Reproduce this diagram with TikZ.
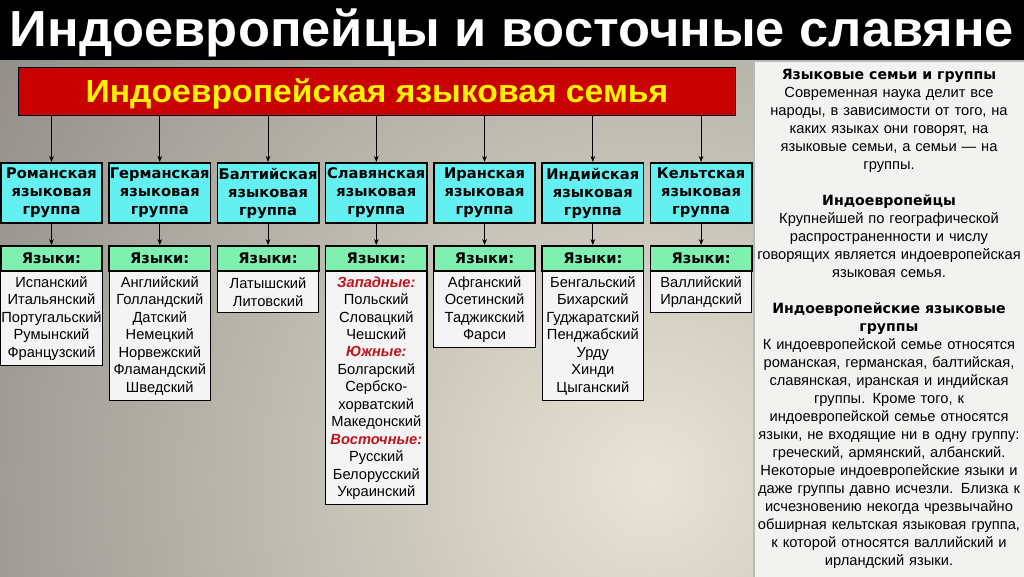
\documentclass[tikz,border=0pt]{standalone}
\usepackage{fontspec}
\usepackage{graphicx}
\setmainfont{Liberation Sans}
\newfontfamily\dejavu{DejaVu Sans}
\usetikzlibrary{positioning,arrows.meta}

\definecolor{famred}{RGB}{200,0,0}
\definecolor{grpcyan}{RGB}{100,240,240}
\definecolor{labgreen}{RGB}{128,240,176}
\definecolor{listwhite}{RGB}{244,244,244}
\definecolor{subred}{RGB}{190,20,30}
\definecolor{bglight}{RGB}{232,228,212}
\definecolor{bgdark}{RGB}{108,108,106}
\definecolor{panelgray}{RGB}{242,242,240}

\newcommand{\subhd}[1]{{\color{subred}\bfseries\itshape #1}}
\newcommand{\panelhd}[1]{{\dejavu\bfseries\fontsize{10.6pt}{13.5pt}\selectfont #1}}

\begin{document}
\begin{tikzpicture}[x=0.75pt, y=-0.75pt, thick,
    family/.style={draw, line width=1.2pt, fill=famred, text=yellow, minimum width=538pt,
                   minimum height=36pt, inner sep=0pt, text height=17pt, text depth=0pt,
                   font=\bfseries\fontsize{24pt}{26pt}\selectfont},
    group/.style={draw, line width=1.2pt, fill=grpcyan, minimum width=76pt, minimum height=45.4pt,
                  align=center, inner sep=0pt, font=\dejavu\bfseries\fontsize{11pt}{13.5pt}\selectfont},
    lab/.style={draw, line width=1.2pt, fill=labgreen, minimum width=76pt, minimum height=19pt,
                inner sep=0pt, font=\dejavu\bfseries\fontsize{11pt}{12pt}\selectfont},
    langs/.style={draw, line width=0.8pt, fill=listwhite, minimum width=76pt,
                  minimum height=#1*13.1pt+5pt, align=center, inner sep=0pt,
                  font=\fontsize{11pt}{13.1pt}\selectfont},
    arr/.style={-{Stealth[length=4.5pt,width=3.5pt]}, line width=0.6pt}]
  \useasboundingbox (0,0) rectangle (1024,576);

  % backdrop
  \begin{scope}
    \clip (0,0) rectangle (1024,576);
    \shade[inner color=bglight, outer color=bgdark] (650,480) circle[radius=1100];
  \end{scope}
  \fill[black] (0,0) rectangle (1024,60);
  \draw[gray!55, line width=1.5pt, fill=panelgray] (754,61) rectangle (1030,580);

  \node[text=white, inner sep=0pt, font=\bfseries\fontsize{38pt}{40pt}\selectfont] (ttl) at (512,33)
    {\resizebox{753pt}{\height}{Индоевропейцы и восточные славяне}};

  \node[family] (fam) at (377,91.5) {\resizebox{437pt}{\height}{Индоевропейская языковая семья}};

  % groups
  \node[group] (rom) at (51.5,193) {Романская\\языковая\\группа};
  \node[group] (ger) [right=4pt of rom] {Германская\\языковая\\группа};
  \node[group] (bal) [right=4pt of ger] {Балтийская\\языковая\\группа};
  \node[group] (sla) [right=4pt of bal] {Славянская\\языковая\\группа};
  \node[group] (ira) [right=4pt of sla] {Иранская\\языковая\\группа};
  \node[group] (ind) [right=4pt of ira] {Индийская\\языковая\\группа};
  \node[group] (kel) [right=4pt of ind] {Кельтская\\языковая\\группа};

  \node[lab] (romlab) [below=15.75pt of rom] {Языки:};
  \node[lab] (gerlab) [below=15.75pt of ger] {Языки:};
  \node[lab] (ballab) [below=15.75pt of bal] {Языки:};
  \node[lab] (slalab) [below=15.75pt of sla] {Языки:};
  \node[lab] (iralab) [below=15.75pt of ira] {Языки:};
  \node[lab] (indlab) [below=15.75pt of ind] {Языки:};
  \node[lab] (kellab) [below=15.75pt of kel] {Языки:};

  \node[langs=5] (romlist) [below=-1pt of romlab]
    {Испанский\\Итальянский\\Португальский\\Румынский\\Французский};
  \node[langs=7] (gerlist) [below=-1pt of gerlab]
    {Английский\\Голландский\\Датский\\Немецкий\\Норвежский\\Фламандский\\Шведский};
  \node[langs=2] (ballist) [below=-1pt of ballab] {Латышский\\Литовский};
  \node[langs=13] (slalist) [below=-1pt of slalab]
    {\subhd{Западные:}\\Польский\\Словацкий\\Чешский\\\subhd{Южные:}\\Болгарский\\Сербско-\\хорватский\\Македонский\\\subhd{Восточные:}\\Русский\\Белорусский\\Украинский};
  \node[langs=4] (iralist) [below=-1pt of iralab] {Афганский\\Осетинский\\Таджикский\\Фарси};
  \node[langs=7] (indlist) [below=-1pt of indlab]
    {Бенгальский\\Бихарский\\Гуджаратский\\Пенджабский\\Урду\\Хинди\\Цыганский};
  \node[langs=2] (kellist) [below=-1pt of kellab] {Валлийский\\Ирландский};

  \path[arr]
    (fam.south -| rom) edge (rom)
    (fam.south -| ger) edge (ger)
    (fam.south -| bal) edge (bal)
    (fam.south -| sla) edge (sla)
    (fam.south -| ira) edge (ira)
    (fam.south -| ind) edge (ind)
    (fam.south -| kel) edge (kel)
    (rom) edge (romlab)
    (ger) edge (gerlab)
    (bal) edge (ballab)
    (sla) edge (slalab)
    (ira) edge (iralab)
    (ind) edge (indlab)
    (kel) edge (kellab);

  % side text
  \node[anchor=north, align=center, text width=202pt, inner sep=0pt,
        font=\fontsize{11pt}{13.5pt}\selectfont] (info) at (889,69)
    {\panelhd{Языковые семьи и группы}\\
     Современная наука делит все\\
     народы, в зависимости от того, на\\
     каких языках они говорят, на\\
     языковые семьи, а семьи — на\\
     группы.\\[13.5pt]
     \panelhd{Индоевропейцы}\\
     Крупнейшей по географической\\
     распространенности и числу\\
     говорящих является индоевропейская\\
     языковая семья.\\[13.5pt]
     \panelhd{Индоевропейские языковые}\\
     \panelhd{группы}\\
     К индоевропейской семье относятся\\
     романская, германская, балтийская,\\
     славянская, иранская и индийская\\
     группы. Кроме того, к\\
     индоевропейской семье относятся\\
     языки, не входящие ни в одну группу:\\
     греческий, армянский, албанский.\\
     Некоторые индоевропейские языки и\\
     даже группы давно исчезли. Близка к\\
     исчезновению некогда чрезвычайно\\
     обширная кельтская языковая группа,\\
     к которой относятся валлийский и\\
     ирландский языки.};
\end{tikzpicture}
\end{document}
